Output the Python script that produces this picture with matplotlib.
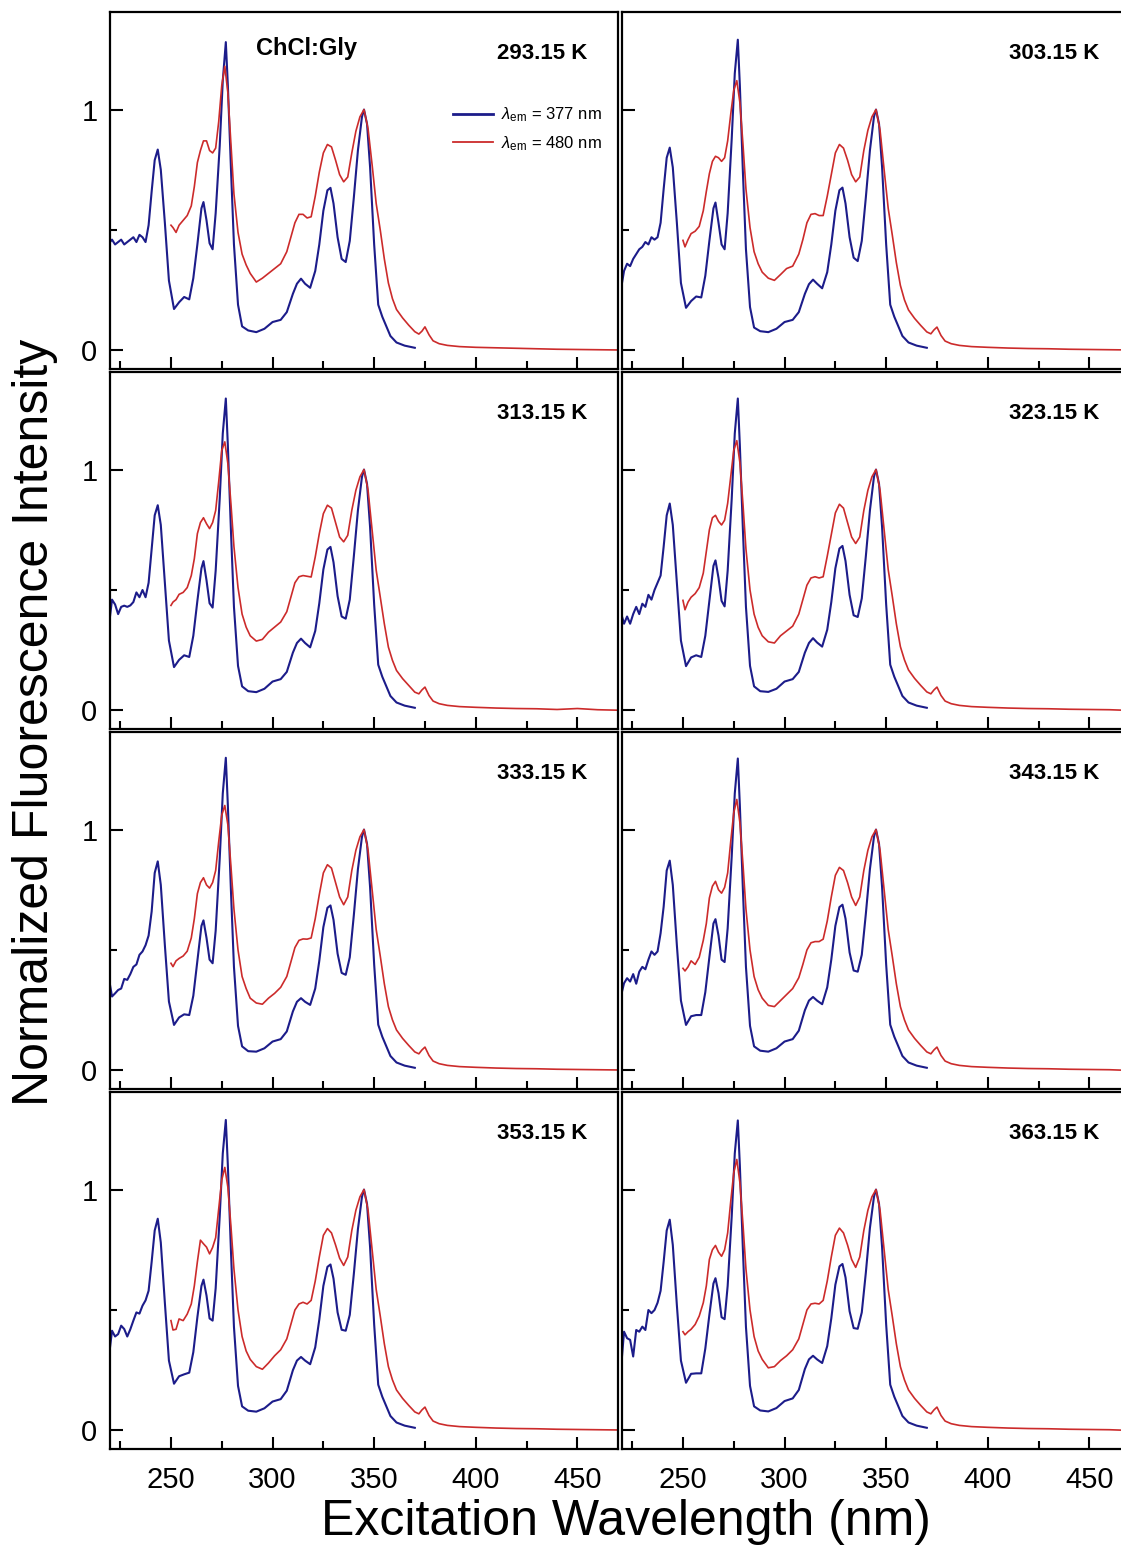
import matplotlib
matplotlib.use("Agg")
import matplotlib.pyplot as plt
from matplotlib.ticker import MultipleLocator

plt.rcParams["font.family"] = ["Liberation Sans", "DejaVu Sans"]
plt.rcParams["mathtext.fontset"] = "custom"
plt.rcParams["mathtext.rm"] = "Liberation Sans"
plt.rcParams["mathtext.it"] = "Liberation Sans:italic"

# panel labels, left-to-right, top-to-bottom
TEMPS = ["293.15 K", "303.15 K", "313.15 K", "323.15 K",
         "333.15 K", "343.15 K", "353.15 K", "363.15 K"]

LEGEND_LABELS = [r"$\lambda_{\rm em}$ = 377 nm", r"$\lambda_{\rm em}$ = 480 nm"]

# excitation wavelengths (nm) for the lambda_em = 377 nm spectra
BLUE_NM = [220, 221, 222.5, 224, 225.5, 227, 228.5, 230, 231.5, 233, 234.5, 236, 237.5,
           239, 240.5, 242, 243.5, 245, 247, 249,
           251.5, 254, 256.5, 259, 261, 263, 265, 266, 267.5, 269, 270.5,
           272, 274, 275.5, 277, 278, 279.5, 281, 283, 285,
           288, 292, 296, 300, 304, 307, 310, 312, 314, 316,
           318.5, 321, 323, 325, 327, 328.5, 330, 332, 334, 336,
           338, 340, 342, 344, 345, 346.5, 348, 350, 352, 354,
           356, 358, 361, 365, 370]

BLUE_293 = [0.45, 0.46, 0.44, 0.45, 0.46, 0.44, 0.45, 0.46, 0.47, 0.45, 0.48, 0.47, 0.45,
            0.52, 0.66, 0.79, 0.834, 0.75, 0.53, 0.29,
            0.172, 0.20, 0.222, 0.212, 0.30, 0.44, 0.59, 0.616, 0.54, 0.445, 0.42,
            0.57, 0.85, 1.12, 1.28, 1.10, 0.76, 0.44, 0.19, 0.10,
            0.083, 0.076, 0.09, 0.118, 0.127, 0.159, 0.235, 0.277, 0.298, 0.277,
            0.26, 0.33, 0.44, 0.58, 0.665, 0.675, 0.61, 0.47, 0.38, 0.367,
            0.455, 0.635, 0.83, 0.97, 1.0, 0.94, 0.76, 0.44, 0.19, 0.14,
            0.10, 0.06, 0.033, 0.02, 0.011]
BLUE_303 = [0.28, 0.33, 0.36, 0.35, 0.38, 0.40, 0.42, 0.43, 0.45, 0.44, 0.47, 0.46, 0.47,
            0.53, 0.67, 0.80, 0.842, 0.76, 0.53, 0.28,
            0.177, 0.205, 0.224, 0.22, 0.31, 0.455, 0.59, 0.614, 0.53, 0.44, 0.42,
            0.57, 0.88, 1.15, 1.29, 1.10, 0.74, 0.42, 0.18, 0.095,
            0.08, 0.076, 0.09, 0.118, 0.127, 0.159, 0.235, 0.275, 0.294, 0.277,
            0.258, 0.325, 0.44, 0.58, 0.665, 0.676, 0.61, 0.47, 0.385, 0.371,
            0.455, 0.635, 0.83, 0.97, 1.0, 0.94, 0.76, 0.44, 0.19, 0.14,
            0.10, 0.06, 0.033, 0.02, 0.011]
BLUE_313 = [0.39, 0.46, 0.44, 0.40, 0.43, 0.435, 0.43, 0.436, 0.45, 0.49, 0.47, 0.50, 0.47,
            0.53, 0.67, 0.81, 0.852, 0.77, 0.53, 0.29,
            0.18, 0.21, 0.229, 0.222, 0.31, 0.455, 0.59, 0.62, 0.54, 0.445, 0.427,
            0.58, 0.88, 1.15, 1.295, 1.10, 0.75, 0.43, 0.185, 0.10,
            0.08, 0.076, 0.09, 0.12, 0.13, 0.16, 0.24, 0.28, 0.298, 0.28,
            0.262, 0.33, 0.445, 0.585, 0.668, 0.679, 0.615, 0.475, 0.39, 0.381,
            0.46, 0.64, 0.83, 0.97, 1.0, 0.94, 0.76, 0.44, 0.19, 0.14,
            0.10, 0.06, 0.033, 0.02, 0.011]
BLUE_323 = [0.39, 0.36, 0.39, 0.36, 0.40, 0.43, 0.40, 0.443, 0.43, 0.48, 0.46, 0.50, 0.53,
            0.56, 0.68, 0.81, 0.859, 0.77, 0.53, 0.29,
            0.184, 0.22, 0.229, 0.222, 0.31, 0.455, 0.60, 0.623, 0.55, 0.455, 0.432,
            0.58, 0.88, 1.15, 1.295, 1.10, 0.75, 0.43, 0.185, 0.10,
            0.08, 0.077, 0.09, 0.12, 0.13, 0.16, 0.24, 0.28, 0.30, 0.282,
            0.265, 0.335, 0.45, 0.59, 0.672, 0.683, 0.62, 0.48, 0.395, 0.388,
            0.465, 0.64, 0.83, 0.97, 1.0, 0.94, 0.76, 0.44, 0.19, 0.14,
            0.10, 0.06, 0.033, 0.02, 0.011]
BLUE_333 = [0.355, 0.307, 0.32, 0.334, 0.34, 0.38, 0.376, 0.40, 0.43, 0.44, 0.48, 0.494, 0.52,
            0.56, 0.66, 0.82, 0.868, 0.77, 0.52, 0.286,
            0.189, 0.22, 0.233, 0.23, 0.31, 0.455, 0.60, 0.623, 0.55, 0.46, 0.445,
            0.58, 0.88, 1.15, 1.298, 1.10, 0.75, 0.43, 0.185, 0.10,
            0.08, 0.078, 0.092, 0.12, 0.13, 0.162, 0.245, 0.285, 0.30, 0.285,
            0.272, 0.34, 0.455, 0.595, 0.675, 0.685, 0.625, 0.485, 0.405, 0.397,
            0.47, 0.645, 0.835, 0.97, 1.0, 0.94, 0.76, 0.44, 0.19, 0.14,
            0.10, 0.06, 0.033, 0.02, 0.011]
BLUE_343 = [0.327, 0.362, 0.383, 0.369, 0.40, 0.36, 0.41, 0.43, 0.42, 0.46, 0.494, 0.48, 0.494,
            0.57, 0.68, 0.83, 0.871, 0.77, 0.52, 0.29,
            0.189, 0.225, 0.23, 0.23, 0.325, 0.47, 0.61, 0.628, 0.56, 0.46, 0.45,
            0.59, 0.89, 1.15, 1.295, 1.10, 0.75, 0.43, 0.185, 0.10,
            0.082, 0.078, 0.092, 0.12, 0.13, 0.165, 0.25, 0.29, 0.305, 0.29,
            0.275, 0.345, 0.46, 0.60, 0.678, 0.688, 0.63, 0.49, 0.415, 0.41,
            0.48, 0.65, 0.835, 0.97, 1.0, 0.94, 0.76, 0.44, 0.19, 0.14,
            0.10, 0.06, 0.033, 0.02, 0.011]
BLUE_353 = [0.344, 0.414, 0.39, 0.40, 0.435, 0.421, 0.39, 0.42, 0.456, 0.49, 0.485, 0.518, 0.54,
            0.58, 0.70, 0.83, 0.879, 0.78, 0.53, 0.29,
            0.194, 0.225, 0.233, 0.24, 0.325, 0.47, 0.60, 0.626, 0.56, 0.465, 0.456,
            0.59, 0.89, 1.15, 1.289, 1.10, 0.75, 0.43, 0.185, 0.10,
            0.082, 0.078, 0.092, 0.12, 0.13, 0.165, 0.25, 0.29, 0.305, 0.29,
            0.275, 0.345, 0.46, 0.60, 0.679, 0.689, 0.63, 0.49, 0.418, 0.414,
            0.48, 0.65, 0.835, 0.97, 1.0, 0.94, 0.76, 0.44, 0.19, 0.14,
            0.10, 0.06, 0.033, 0.02, 0.011]
BLUE_363 = [0.307, 0.41, 0.383, 0.376, 0.307, 0.417, 0.41, 0.431, 0.417, 0.50, 0.487, 0.50, 0.53,
            0.58, 0.70, 0.83, 0.875, 0.77, 0.52, 0.29,
            0.198, 0.235, 0.237, 0.237, 0.34, 0.48, 0.61, 0.632, 0.57, 0.47, 0.462,
            0.60, 0.89, 1.15, 1.287, 1.10, 0.75, 0.43, 0.185, 0.10,
            0.083, 0.079, 0.093, 0.122, 0.133, 0.168, 0.255, 0.295, 0.31, 0.295,
            0.28, 0.35, 0.465, 0.605, 0.681, 0.691, 0.635, 0.495, 0.425, 0.422,
            0.49, 0.655, 0.84, 0.97, 1.0, 0.94, 0.76, 0.44, 0.19, 0.14,
            0.10, 0.06, 0.033, 0.02, 0.011]

# excitation wavelengths (nm) for the lambda_em = 480 nm spectra
RED_NM = [250, 251, 252.5, 254, 256, 258, 260, 261.5, 263, 264.5,
          266, 267.5, 269, 270.5, 272, 273.5, 275, 276.5,
          278, 279.5, 281, 283, 285, 287, 289, 292, 295, 298, 301, 304, 307,
          309, 311, 313, 315, 317, 319, 321, 323, 325, 327,
          329, 331, 333, 335, 337, 339, 341, 343, 345,
          347, 349, 351, 353, 355, 357, 359, 361, 364, 367, 370,
          372, 373.5, 375, 377, 379, 382, 386, 392, 400, 410, 420, 430, 440, 450, 460, 470]

RED_293 = [0.52, 0.51, 0.49, 0.52, 0.54, 0.56, 0.60, 0.68, 0.78, 0.83,
           0.87, 0.87, 0.83, 0.82, 0.84, 0.95, 1.10, 1.18,
           1.07, 0.86, 0.65, 0.49, 0.40, 0.355, 0.32, 0.284, 0.30, 0.32, 0.34, 0.36, 0.41,
           0.47, 0.53, 0.565, 0.565, 0.55, 0.555, 0.64, 0.74, 0.82, 0.855,
           0.845, 0.79, 0.73, 0.70, 0.72, 0.82, 0.91, 0.97, 1.0,
           0.92, 0.77, 0.61, 0.50, 0.38, 0.28, 0.215, 0.17, 0.135, 0.105, 0.078,
           0.068, 0.08, 0.098, 0.065, 0.04, 0.028, 0.021, 0.016, 0.013, 0.011, 0.009, 0.007, 0.005, 0.004, 0.003, 0.002]
RED_303 = [0.457, 0.43, 0.46, 0.485, 0.495, 0.515, 0.58, 0.66, 0.734, 0.785,
           0.806, 0.80, 0.785, 0.80, 0.87, 0.98, 1.08, 1.12,
           1.03, 0.86, 0.67, 0.51, 0.41, 0.36, 0.325, 0.30, 0.291, 0.315, 0.34, 0.35, 0.40,
           0.46, 0.53, 0.565, 0.568, 0.56, 0.56, 0.64, 0.73, 0.82, 0.855,
           0.84, 0.79, 0.73, 0.70, 0.72, 0.83, 0.914, 0.97, 1.0,
           0.914, 0.75, 0.59, 0.48, 0.365, 0.27, 0.21, 0.168, 0.133, 0.104, 0.077,
           0.069, 0.085, 0.097, 0.062, 0.039, 0.028, 0.021, 0.016, 0.013, 0.01, 0.008, 0.007, 0.005, 0.004, 0.003, 0.002]
RED_313 = [0.436, 0.45, 0.46, 0.482, 0.49, 0.51, 0.56, 0.63, 0.734, 0.78,
           0.80, 0.775, 0.755, 0.78, 0.83, 0.95, 1.08, 1.115,
           1.025, 0.86, 0.68, 0.51, 0.40, 0.346, 0.31, 0.288, 0.295, 0.325, 0.346, 0.367, 0.41,
           0.47, 0.53, 0.555, 0.56, 0.557, 0.554, 0.637, 0.734, 0.817, 0.852,
           0.84, 0.78, 0.72, 0.70, 0.727, 0.831, 0.914, 0.97, 1.0,
           0.914, 0.748, 0.582, 0.471, 0.36, 0.263, 0.208, 0.166, 0.132, 0.104, 0.076,
           0.069, 0.085, 0.097, 0.062, 0.039, 0.028, 0.021, 0.016, 0.013, 0.01, 0.008, 0.007, 0.004, 0.008, 0.003, 0.001]
RED_323 = [0.457, 0.418, 0.45, 0.47, 0.485, 0.51, 0.57, 0.66, 0.75, 0.80,
           0.81, 0.785, 0.77, 0.79, 0.86, 0.97, 1.08, 1.12,
           1.03, 0.86, 0.67, 0.50, 0.40, 0.345, 0.31, 0.285, 0.28, 0.31, 0.33, 0.35, 0.40,
           0.46, 0.52, 0.55, 0.555, 0.55, 0.555, 0.64, 0.73, 0.82, 0.856,
           0.84, 0.78, 0.72, 0.693, 0.72, 0.83, 0.914, 0.97, 1.0,
           0.914, 0.75, 0.585, 0.475, 0.36, 0.265, 0.21, 0.168, 0.133, 0.104, 0.077,
           0.069, 0.085, 0.097, 0.062, 0.039, 0.028, 0.021, 0.016, 0.013, 0.01, 0.008, 0.007, 0.005, 0.004, 0.003, 0.0]
RED_333 = [0.445, 0.431, 0.455, 0.465, 0.475, 0.495, 0.55, 0.63, 0.734, 0.78,
           0.80, 0.77, 0.757, 0.78, 0.83, 0.95, 1.06, 1.10,
           1.02, 0.85, 0.67, 0.50, 0.39, 0.34, 0.30, 0.28, 0.275, 0.30, 0.32, 0.345, 0.39,
           0.45, 0.51, 0.54, 0.546, 0.545, 0.55, 0.63, 0.73, 0.82, 0.854,
           0.84, 0.78, 0.72, 0.688, 0.72, 0.83, 0.914, 0.97, 1.0,
           0.914, 0.75, 0.585, 0.475, 0.36, 0.265, 0.21, 0.168, 0.133, 0.104, 0.077,
           0.069, 0.085, 0.097, 0.062, 0.039, 0.028, 0.021, 0.016, 0.013, 0.01, 0.008, 0.007, 0.005, 0.004, 0.003, 0.002]
RED_343 = [0.424, 0.413, 0.43, 0.455, 0.44, 0.47, 0.54, 0.61, 0.716, 0.765,
           0.785, 0.75, 0.736, 0.76, 0.82, 0.95, 1.07, 1.125,
           1.03, 0.86, 0.67, 0.50, 0.39, 0.335, 0.30, 0.27, 0.265, 0.29, 0.315, 0.34, 0.385,
           0.44, 0.50, 0.53, 0.535, 0.535, 0.545, 0.62, 0.72, 0.81, 0.843,
           0.83, 0.78, 0.72, 0.685, 0.72, 0.83, 0.914, 0.97, 1.0,
           0.914, 0.75, 0.585, 0.475, 0.36, 0.265, 0.21, 0.168, 0.133, 0.104, 0.077,
           0.069, 0.085, 0.097, 0.062, 0.039, 0.028, 0.021, 0.016, 0.013, 0.01, 0.008, 0.007, 0.005, 0.004, 0.003, 0.0]
RED_353 = [0.456, 0.417, 0.42, 0.463, 0.456, 0.483, 0.525, 0.60, 0.70, 0.79,
           0.775, 0.761, 0.733, 0.76, 0.80, 0.92, 1.04, 1.092,
           1.01, 0.85, 0.67, 0.50, 0.39, 0.33, 0.295, 0.265, 0.254, 0.28, 0.31, 0.335, 0.38,
           0.44, 0.50, 0.525, 0.532, 0.525, 0.54, 0.62, 0.72, 0.81, 0.838,
           0.82, 0.77, 0.715, 0.685, 0.72, 0.83, 0.914, 0.97, 1.0,
           0.914, 0.75, 0.585, 0.475, 0.36, 0.265, 0.21, 0.168, 0.133, 0.104, 0.077,
           0.069, 0.085, 0.097, 0.062, 0.039, 0.028, 0.021, 0.016, 0.013, 0.01, 0.008, 0.007, 0.005, 0.004, 0.003, 0.002]
RED_363 = [0.41, 0.397, 0.41, 0.42, 0.44, 0.475, 0.53, 0.60, 0.71, 0.75,
           0.768, 0.74, 0.723, 0.75, 0.82, 0.95, 1.07, 1.125,
           1.03, 0.86, 0.67, 0.50, 0.39, 0.33, 0.295, 0.26, 0.265, 0.29, 0.31, 0.335, 0.38,
           0.44, 0.50, 0.525, 0.528, 0.525, 0.54, 0.62, 0.72, 0.81, 0.84,
           0.82, 0.77, 0.71, 0.677, 0.72, 0.83, 0.914, 0.97, 1.0,
           0.914, 0.75, 0.585, 0.475, 0.36, 0.265, 0.21, 0.168, 0.133, 0.104, 0.077,
           0.069, 0.085, 0.097, 0.062, 0.039, 0.028, 0.021, 0.016, 0.013, 0.01, 0.008, 0.007, 0.005, 0.004, 0.003, 0.0]

BLUE_SETS = [BLUE_293, BLUE_303, BLUE_313, BLUE_323, BLUE_333, BLUE_343, BLUE_353, BLUE_363]
RED_SETS = [RED_293, RED_303, RED_313, RED_323, RED_333, RED_343, RED_353, RED_363]

BLUE = "#1c1c8a"
RED = "#cc2b2b"

W, H = 1121, 1551
fig = plt.figure(figsize=(W / 100, H / 100), dpi=100)

# panel geometry in pixels (the right column runs past the image edge, as in the original)
col_x = [110, 622]
row_top = [12, 372, 732, 1092]
pw, ph = 508, 357

for i, temp in enumerate(TEMPS):
    r, c = divmod(i, 2)
    ax = fig.add_axes([col_x[c] / W, 1 - (row_top[r] + ph) / H, pw / W, ph / H])

    b, = ax.plot(BLUE_NM, BLUE_SETS[i], color=BLUE, lw=1.5)
    rd, = ax.plot(RED_NM, RED_SETS[i], color=RED, lw=1.2)

    ax.set_xlim(220, 470)
    ax.set_ylim(-0.077, 1.405)
    ax.xaxis.set_major_locator(MultipleLocator(50))
    ax.xaxis.set_minor_locator(MultipleLocator(25))
    ax.set_yticks([0, 1])
    ax.yaxis.set_minor_locator(MultipleLocator(0.5))
    ax.tick_params(which="both", direction="in", top=False, right=False,
                   width=1.5, labelsize=21)
    ax.tick_params(axis="x", which="major", length=9, pad=12)
    ax.tick_params(axis="x", which="minor", length=6)
    ax.tick_params(axis="y", which="major", length=9, pad=9)
    ax.tick_params(axis="y", which="minor", length=5)
    for sp in ax.spines.values():
        sp.set_linewidth(1.6)
    if c == 1:
        ax.tick_params(labelleft=False)
    if r < 3:
        ax.tick_params(labelbottom=False)

    ax.text(0.94, 0.885, temp, transform=ax.transAxes, ha="right", va="center",
            fontsize=16, fontweight="bold")

    if i == 0:
        ax.text(0.386, 0.899, "ChCl:Gly", transform=ax.transAxes, ha="center",
                va="center", fontsize=17, fontweight="bold")
        leg = ax.legend([b, rd], LEGEND_LABELS, loc="upper left",
                        bbox_to_anchor=(0.645, 0.78), frameon=False, fontsize=12,
                        handlelength=2.4, handletextpad=0.5, labelspacing=0.6)
        leg.get_lines()[0].set_linewidth(2.0)
        leg.get_lines()[1].set_linewidth(1.3)

fig.text(626 / W, 1 - 1522 / H, "Excitation Wavelength (nm)", ha="center",
         va="center", fontsize=36)
fig.text(35 / W, 1 - 722 / H, "Normalized Fluorescence Intensity", ha="center",
         va="center", rotation=90, fontsize=36)

fig.savefig("out.png", dpi=100)
